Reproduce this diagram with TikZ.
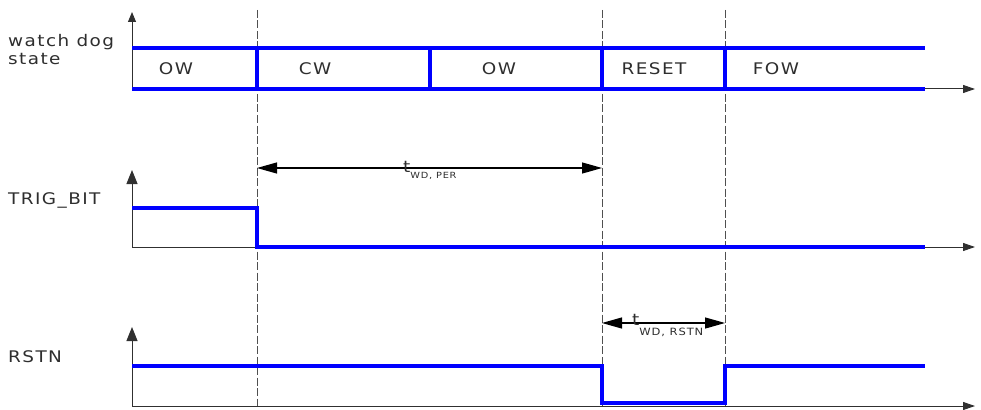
\documentclass[tikz,border=0pt]{standalone}
\usepackage{fontspec}
\setmainfont{DejaVu Sans}[FakeStretch=1.15, LetterSpace=9]
\usetikzlibrary{arrows.meta, positioning, calc}

\begin{document}
\begin{tikzpicture}[x=1pt, y=-1pt,
  sinal/.style={draw=sinalazul, line width=3.5pt},
  eixo/.style={draw=eixocor, line width=1pt, {Triangle[length=14pt, width=11pt]}-{Triangle[length=12pt, width=8pt]}},
  marca/.style={draw=eixocor!85, line width=0.9pt, dash pattern=on 8pt off 2.5pt},
  cota/.style={draw=black, line width=1.2pt, {Triangle[length=20pt, width=11pt]}-{Triangle[length=20pt, width=11pt]}},
  rotulo/.style={text=textocor, font=\fontsize{16}{19}\selectfont, inner sep=0pt}]
% --- DIAGRAMA DE TEMPO DO WATCHDOG ---
\definecolor{sinalazul}{HTML}{0000FF}
\definecolor{eixocor}{HTML}{303030}
\definecolor{textocor}{HTML}{2E2E2E}

\useasboundingbox (0,0) rectangle (981,409);

% LAYER 1: Linhas de marcacao (tracejadas)
\foreach \nome/\x in {m1/257, m2/602, m3/725} {
  \coordinate (\nome-topo) at (\x,10);
  \coordinate (\nome-base) at (\x,407);
  \draw[marca] (\nome-topo) -- (\nome-base);
}

% LAYER 2: Eixos
\draw[eixo, {Triangle[length=10pt, width=8pt]}-{Triangle[length=12pt, width=8pt]}] (132,12) -- (132,89) -- (975,89);
\draw[eixo] (132,170) -- (132,247) -- (975,247);
\draw[eixo] (132,327) -- (132,406) -- (975,406);

% LAYER 3: Estado do watchdog
\draw[sinal] (132,48) -- (925,48);
\draw[sinal] (132,89) -- (925,89);
\foreach \x in {257,430,602,725}
  \draw[sinal] (\x,48) -- (\x,89);

\node[rotulo] (ow1) at (176,69) {OW};
\node[rotulo] (cw) at (315,69) {CW};
\node[rotulo] (ow2) at (499,69) {OW};
\node[rotulo] (reset) at (654,69) {RESET};
\node[rotulo] (fow) at (776,69) {FOW};

% LAYER 4: Sinais TRIG_BIT e RSTN
\draw[sinal] (132,208) -- (257,208) -- (257,247) -- (925,247);
\draw[sinal] (132,366) -- (602,366) -- (602,403) -- (725,403) -- (725,366) -- (925,366);

% LAYER 5: Nomes dos sinais
\node[rotulo, anchor=base west] (wd1) at (8,47) {watch dog};
\node[rotulo, anchor=base west] (wd2) at (8,65) {state};
\node[rotulo, anchor=base west] (trig) at (8,204) {TRIG\_BIT};
\node[rotulo, anchor=base west] (rstn) at (8,362) {RSTN};

% LAYER 6: Cotas de tempo
\coordinate (per-ini) at (257,168);
\coordinate (per-fim) at (602,168);
\draw[cota] (per-ini) -- (per-fim);
\node[rotulo, anchor=base west] (tper) at (403,172) {t\raisebox{-6pt}{\fontsize{8.5}{10}\selectfont WD, PER}};

\coordinate (rst-ini) at (602,323);
\coordinate (rst-fim) at (725,323);
\draw[cota] (rst-ini) -- (rst-fim);
\node[rotulo, anchor=base west] (trst) at (632,325) {t\raisebox{-10pt}{\fontsize{10}{12}\selectfont WD, RSTN}};
\end{tikzpicture}
\end{document}
